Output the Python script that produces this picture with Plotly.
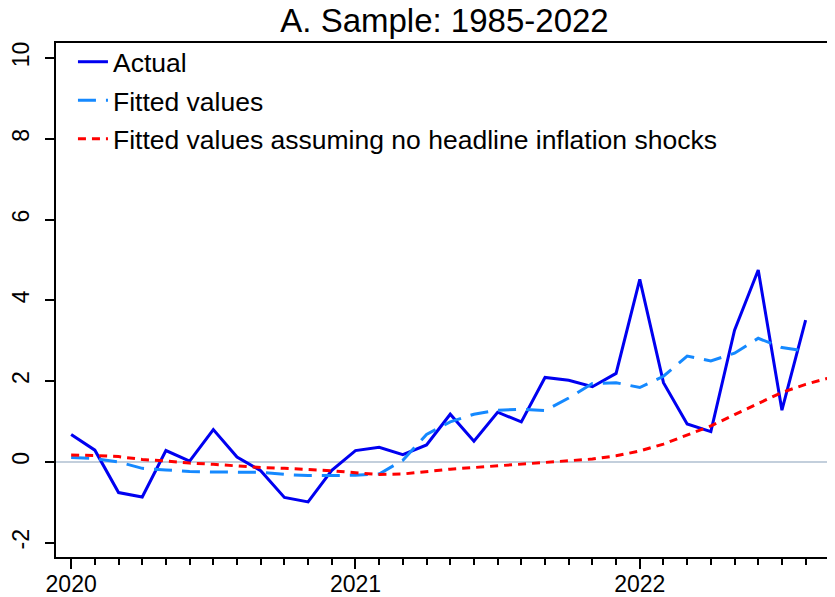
import plotly.graph_objects as go

# Monthly observations, Jan 2020 onward (index 0 = 2020m1)
months_actual = list(range(0, 32))
actual = [0.68, 0.29, -0.76, -0.87, 0.28, 0.02, 0.80, 0.12, -0.22, -0.88, -0.99, -0.21,
          0.28, 0.36, 0.18, 0.42, 1.18, 0.51, 1.23, 0.99, 2.09, 2.02, 1.86, 2.19,
          4.52, 1.96, 0.94, 0.75, 3.26, 4.75, 1.28, 3.51]
fitted = [0.11, 0.08, 0.00, -0.16, -0.20, -0.24, -0.25, -0.25, -0.26, -0.31, -0.34, -0.34,
          -0.33, -0.30, 0.04, 0.68, 0.99, 1.18, 1.28, 1.30, 1.27, 1.58, 1.94, 1.96,
          1.84, 2.12, 2.62, 2.50, 2.69, 3.06, 2.83, 2.74]
months_noshock = list(range(0, 33))
noshock = [0.17, 0.16, 0.13, 0.06, 0.02, -0.03, -0.06, -0.10, -0.14, -0.16, -0.19, -0.22,
           -0.27, -0.31, -0.30, -0.24, -0.18, -0.14, -0.10, -0.06, -0.02, 0.02, 0.07, 0.15,
           0.27, 0.44, 0.67, 0.89, 1.17, 1.45, 1.72, 1.92, 2.08]

year_ticks = [0, 12, 24]
year_labels = ["2020", "2021", "2022"]
y_ticks = [-2, 0, 2, 4, 6, 8, 10]
y_labels = ["-2", "0", "2", "4", "6", "8", "10"]

FONT = "Liberation Sans, Arial, sans-serif"

# page body adds an 8px offset; figure sized to fit the window
W, H = 827, 589
ML, MT, MB, MR = 46, 35, 40, 0
PW = W - ML - MR
PH = H - MT - MB

fig = go.Figure()
fig.add_trace(go.Scatter(x=months_actual, y=actual, mode="lines", name="Actual",
                         legendgroup="a",
                         line=dict(color="#0000f0", width=3)))
fig.add_trace(go.Scatter(x=months_actual, y=fitted, mode="lines", name="Fitted values",
                         legendgroup="b",
                         line=dict(color="#1589ff", width=3, dash="18px,10px")))
fig.add_trace(go.Scatter(x=months_noshock, y=noshock, mode="lines",
                         name="Fitted values assuming no headline inflation shocks",
                         legendgroup="c",
                         line=dict(color="#ff0000", width=3, dash="8px,6px")))

fig.update_layout(
    width=W, height=H,
    margin=dict(l=ML, r=MR, t=MT, b=MB),
    paper_bgcolor="white", plot_bgcolor="white",
    font=dict(family=FONT, color="black"),
    title=dict(text="A. Sample: 1985-2022", x=(ML + W) / 2 / W, xanchor="center",
               y=1 - 12 / H, yanchor="middle", yref="container",
               font=dict(size=33, color="black", family=FONT)),
    showlegend=True,
    legend=dict(x=17 / PW, y=1 + 5 / PH, xanchor="left", yanchor="top", xref="paper",
                bgcolor="rgba(0,0,0,0)", borderwidth=0,
                font=dict(size=26.5, color="black", family=FONT),
                tracegroupgap=1, itemwidth=30),
)

fig.update_xaxes(
    range=[-0.64, 32.24], tickmode="array", tickvals=year_ticks, ticktext=year_labels,
    ticks="outside", ticklen=10, tickwidth=1.5, tickcolor="black",
    minor=dict(dtick=1, tick0=0, ticks="outside", ticklen=6, tickwidth=1.5, tickcolor="black",
               showgrid=False),
    showline=True, linecolor="black", linewidth=1.5, mirror=True,
    showgrid=False, zeroline=False, ticklabelstandoff=-4,
    tickfont=dict(size=23, color="black", family=FONT),
)
fig.update_yaxes(
    range=[-2.355, 10.37], tickmode="array", tickvals=y_ticks, ticktext=y_labels,
    ticks="outside", ticklen=9, tickwidth=1.5, tickcolor="black",
    showline=True, linecolor="black", linewidth=1.5, mirror=False,
    showgrid=False, zeroline=True, zerolinecolor="#c3cfdc", zerolinewidth=1.5,
    tickangle=-90, ticklabelstandoff=7,
    tickfont=dict(size=23, color="black", family=FONT),
)

fig.write_html("out.html")
